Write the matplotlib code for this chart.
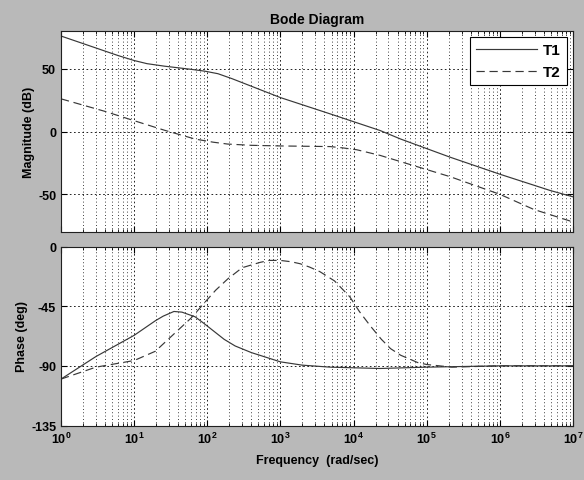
import numpy as np
import matplotlib
matplotlib.use("Agg")
import matplotlib.pyplot as plt
from matplotlib.ticker import FixedLocator, NullFormatter, LogFormatterMathtext

plt.rcParams['font.family'] = ['Liberation Sans', 'DejaVu Sans']
plt.rcParams['font.weight'] = 'bold'
plt.rcParams['mathtext.fontset'] = 'custom'
plt.rcParams['mathtext.rm'] = 'Liberation Sans:bold'
plt.rcParams['mathtext.bf'] = 'Liberation Sans:bold'
plt.rcParams['mathtext.it'] = 'Liberation Sans:bold'
plt.rcParams['mathtext.default'] = 'bf'
plt.rcParams['axes.unicode_minus'] = False

# ---- data ----
t1_mag_w = [1, 4, 6, 10, 15, 26, 60, 93, 140, 219, 1000, 4800, 23000, 44000,
            2.1e5, 1e6, 4.9e6, 1e7]
t1_mag = [76, 64, 60.5, 56.5, 54, 52, 49.5, 48, 46, 42, 27, 14, 0.8, -6,
          -20.5, -34, -47, -52]

t2_mag_w = [1, 4, 10, 26, 68, 120, 190, 400, 1000, 4800, 7000, 11000, 23000,
            44000, 2.1e5, 1e6, 2.9e6, 1e7]
t2_mag = [26, 16, 8.6, 1, -6, -8.5, -10, -11, -11.5, -12, -13, -14.5, -19,
          -24, -36, -50, -62, -72]

t1_ph_w = [1, 3, 10, 19.5, 25, 35, 45, 68, 90, 127, 170, 240, 400, 1000,
           2000, 4800, 23000, 1e5, 1e6, 1e7]
t1_ph = [-100, -83, -67, -56, -52.5, -49, -49.5, -53, -58, -64.5, -70, -75,
         -80, -87, -89.5, -91, -92, -91, -90, -90]

t2_ph_w = [1, 3, 10, 19.5, 40, 60, 93, 130, 190, 300, 525, 700, 1000, 1400,
           1860, 2500, 3470, 5500, 8900, 12000, 17000, 24000, 32000, 44000,
           59000, 75000, 1e5, 2.2e5, 1e6, 1e7]
t2_ph = [-100, -91, -86, -79, -63, -54, -42, -33, -24.5, -16, -12, -10.5,
         -10.5, -11.5, -13, -15.5, -19, -26, -38, -49, -60, -70, -77, -82,
         -85, -87.5, -89, -91, -90, -90]

series_names = ["T1", "T2"]
mag_ticks = [-50, 0, 50]
phase_ticks = [-135, -90, -45, 0]
decades = [1, 10, 100, 1e3, 1e4, 1e5, 1e6, 1e7]
xlim = (1, 1e7)

fig = plt.figure(figsize=(5.84, 4.81), dpi=100)
fig.patch.set_facecolor('#b9b9b9')

L, R = 61 / 584, 573 / 584
ax1 = fig.add_axes([L, 1 - 233 / 481, R - L, (233 - 32) / 481])
ax2 = fig.add_axes([L, 1 - 426.5 / 481, R - L, (426.5 - 247.5) / 481])

lc = '#383838'
dash = (0, (7, 4))
ax1.semilogx(t1_mag_w, t1_mag, color=lc, lw=0.85, ls='-', label=series_names[0])
ax1.semilogx(t2_mag_w, t2_mag, color=lc, lw=0.85, ls=dash, label=series_names[1])
ax2.semilogx(t1_ph_w, t1_ph, color=lc, lw=0.85, ls='-')
ax2.semilogx(t2_ph_w, t2_ph, color=lc, lw=0.85, ls=dash)

ax1.set_ylim(-80, 80)
ax2.set_ylim(-135, 0)
ax1.set_yticks(mag_ticks)
ax2.set_yticks(phase_ticks)

minors = [m * d for d in decades[:-1] for m in range(2, 10)]
for ax in (ax1, ax2):
    ax.set_xlim(*xlim)
    ax.set_facecolor('white')
    ax.xaxis.set_major_locator(FixedLocator(decades))
    ax.xaxis.set_major_formatter(LogFormatterMathtext())
    ax.xaxis.set_minor_locator(FixedLocator(minors))
    ax.xaxis.set_minor_formatter(NullFormatter())
    ax.grid(True, which='major', axis='both', color='black', ls=(0, (2, 3)), lw=0.6)
    ax.grid(True, which='minor', axis='x', color='black', ls=(0, (1, 3)), lw=0.6)
    ax.tick_params(which='both', direction='in', top=True, right=True, labelsize=9)
    ax.tick_params(which='major', length=4)
    ax.tick_params(which='minor', length=2)
    for s in ax.spines.values():
        s.set_linewidth(0.8)
        s.set_color('#202020')

ax1.tick_params(axis='x', labelbottom=False)
for lab in ax1.get_yticklabels() + ax2.get_yticklabels() + ax2.get_xticklabels():
    lab.set_fontweight('bold')

ax1.set_ylabel('Magnitude (dB)', fontsize=9, fontweight='bold', labelpad=2)
ax2.set_ylabel('Phase (deg)', fontsize=9, fontweight='bold', labelpad=2)
ax2.set_xlabel('Frequency  (rad/sec)', fontsize=9, fontweight='bold', labelpad=6)
ax1.set_title('Bode Diagram', fontsize=10, fontweight='bold', pad=6)

leg = ax1.legend(loc='upper right', handlelength=4.0,
                 prop={'weight': 'bold', 'size': 11}, fancybox=False,
                 framealpha=1, edgecolor='black', borderaxespad=0.4,
                 labelspacing=0.5, handletextpad=0.4)
leg.get_frame().set_linewidth(0.8)

fig.savefig('out.png', dpi=100, facecolor=fig.get_facecolor())
